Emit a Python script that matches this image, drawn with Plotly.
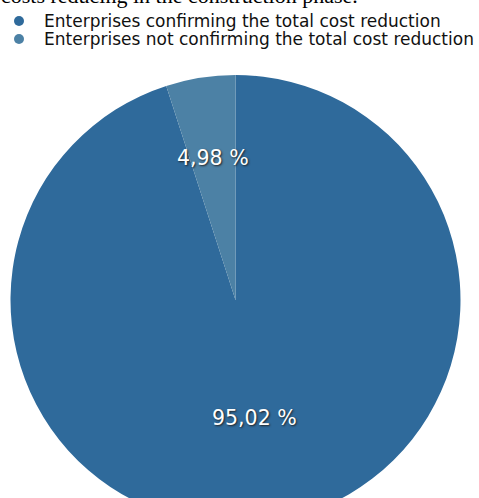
import math
import plotly.graph_objects as go

title_text = "costs reducing in the construction phase."
labels = ["Enterprises confirming the total cost reduction",
          "Enterprises not confirming the total cost reduction"]
values = [95.02, 4.98]
value_texts = ["95,02 %", "4,98 %"]
colors = ["#2f6a9b", "#4c81a5"]

W, H = 479, 525
ML, MR, MT, MB = 10, 18, 75, 0
PW, PH = W - ML - MR, H - MT - MB


def px_x(px):
    return (px - ML) / PW


def px_y(py):
    return 1 - (py - MT) / PH


fig = go.Figure(go.Pie(
    labels=labels, values=values, sort=False, direction="clockwise", rotation=0,
    marker=dict(colors=colors, line=dict(width=0)),
    textinfo="none", hoverinfo="label+percent", showlegend=False,
))

annotations = []
shapes = []
# slice value labels placed along each slice's bisector
cx, cy, r = ML + PW / 2, MT + PH / 2, min(PW, PH) / 2
total = sum(values)
start = 0.0
fracs = [0.53, 0.64]
for v, t, f in zip(values, value_texts, fracs):
    mid = start + v / total * 360 / 2
    start += v / total * 360
    a = math.radians(mid)
    lx = cx + f * r * math.sin(a)
    ly = cy - f * r * math.cos(a)
    annotations.append(dict(
        x=px_x(lx), y=px_y(ly), xref="paper", yref="paper", text=t, showarrow=False,
        xanchor="center", yanchor="middle",
        font=dict(family="DejaVu Sans", size=20.5, color="white", shadow="1px 1px 2px #222"),
    ))

# legend
rows_y = [21, 39]
for lab, col, ry in zip(labels, colors, rows_y):
    shapes.append(dict(type="circle", xref="paper", yref="paper",
                       xsizemode="pixel", ysizemode="pixel",
                       xanchor=px_x(19), yanchor=px_y(ry),
                       x0=-5, x1=5, y0=-5, y1=5,
                       fillcolor=col, line=dict(width=0)))
    annotations.append(dict(
        x=px_x(42), y=px_y(ry), xref="paper", yref="paper", text=lab, showarrow=False,
        xanchor="left", yanchor="middle",
        font=dict(family="DejaVu Sans", size=17, color="#111"),
    ))

# cropped heading text at the very top
annotations.append(dict(
    x=px_x(-1), y=px_y(10), xref="paper", yref="paper", text=title_text, showarrow=False,
    xanchor="left", yanchor="bottom",
    font=dict(family="Liberation Serif", size=22, color="black"),
))

fig.update_layout(
    width=W, height=H, margin=dict(l=ML, r=MR, t=MT, b=MB),
    paper_bgcolor="white", plot_bgcolor="white",
    annotations=annotations, shapes=shapes,
)

fig.write_html("out.html", post_script=(
    "document.body.style.margin='0';document.body.style.overflow='hidden';"
    "document.documentElement.style.overflow='hidden';"
))
